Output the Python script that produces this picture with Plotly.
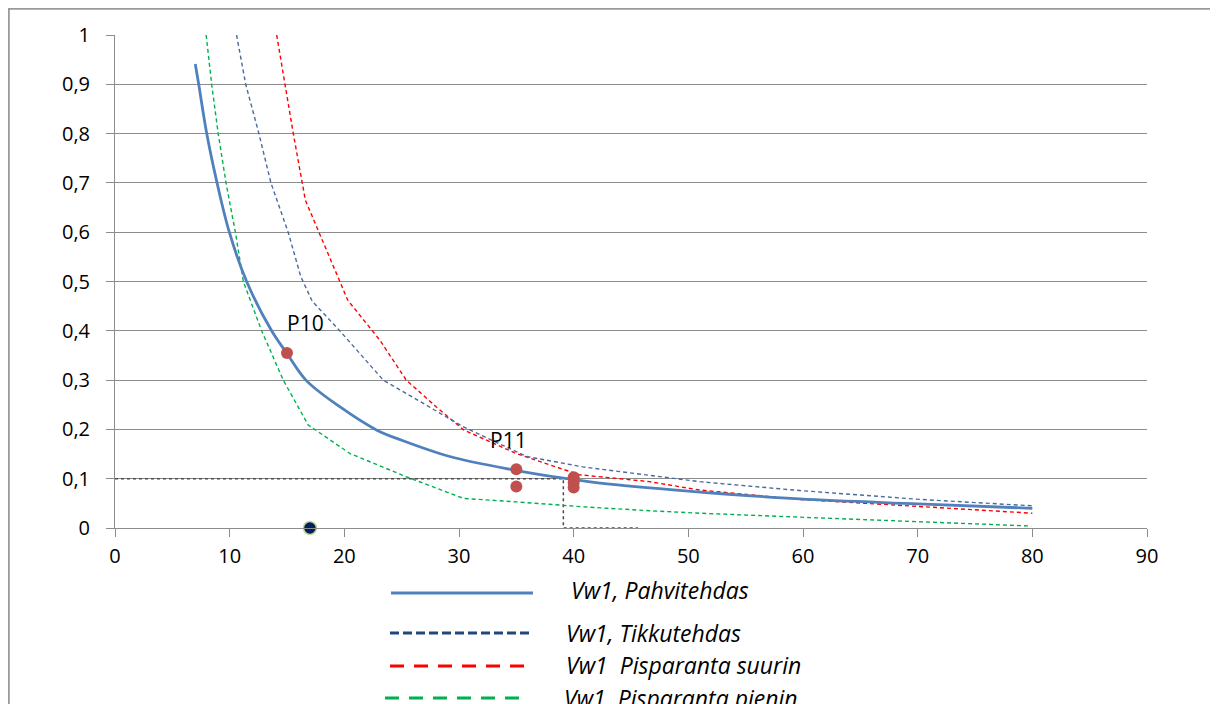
import plotly.graph_objects as go

# ---------------- data ----------------
pahvi_x = [7.0, 7.3, 8.0, 8.9, 9.97, 11.48, 13.66, 14.97, 16.65, 19.6, 22.8, 25.0, 29.2, 34.7, 39.1, 42.3, 50.0, 59.7, 70.0, 80.0]
pahvi_y = [0.941, 0.90, 0.80, 0.70, 0.60, 0.50, 0.40, 0.355, 0.300, 0.246, 0.199, 0.178, 0.145, 0.118, 0.101, 0.091, 0.075, 0.059, 0.049, 0.040]

tikku_x = [10.6, 11.4, 12.55, 13.6, 15.1, 16.2, 17.2, 19.6, 23.4, 30.4, 35.9, 40.8, 46.6, 51.0, 59.7, 70.2, 80.0]
tikku_y = [1.0, 0.90, 0.80, 0.70, 0.60, 0.51, 0.460, 0.400, 0.300, 0.205, 0.145, 0.124, 0.107, 0.094, 0.076, 0.058, 0.045]

suurin_x = [14.1, 14.8, 15.55, 16.6, 17.8, 19.1, 20.3, 23.1, 25.4, 28.0, 30.4, 35.0, 40.5, 46.6, 51.0, 59.7, 70.2, 80.0]
suurin_y = [1.0, 0.90, 0.80, 0.665, 0.60, 0.527, 0.462, 0.381, 0.300, 0.246, 0.199, 0.151, 0.108, 0.094, 0.077, 0.058, 0.043, 0.030]

pienin_x = [7.95, 8.43, 9.0, 9.68, 10.5, 11.19, 12.79, 14.67, 16.85, 20.5, 25.4, 30.4, 35.0, 40.8, 46.6, 51.0, 59.7, 70.2, 79.9]
pienin_y = [1.0, 0.90, 0.80, 0.70, 0.60, 0.50, 0.40, 0.300, 0.209, 0.151, 0.104, 0.060, 0.053, 0.043, 0.035, 0.030, 0.022, 0.013, 0.004]

meas_x = [15.0, 35.0, 35.0, 40.0, 40.0, 40.0]
meas_y = [0.355, 0.119, 0.084, 0.103, 0.092, 0.082]

navy_x = [17.0]
navy_y = [0.0]

ref_x = [0.0, 39.1, 39.1, 45.6]
ref_y = [0.1, 0.1, 0.0, 0.0]

label_text = ["P10", "P11"]
label_x = [16.6, 34.3]
label_y = [0.416, 0.178]

x_ticks = [0, 10, 20, 30, 40, 50, 60, 70, 80, 90]
y_ticks = [0, 0.1, 0.2, 0.3, 0.4, 0.5, 0.6, 0.7, 0.8, 0.9, 1.0]
y_ticktext = ["0", "0,1", "0,2", "0,3", "0,4", "0,5", "0,6", "0,7", "0,8", "0,9", "1"]

legend_names = ["Vw1, Pahvitehdas", "Vw1, Tikkutehdas", "Vw1  Pisparanta suurin", "Vw1  Pisparanta pienin"]

# ---------------- figure ----------------
# the page body adds an 8px margin, so the figure is 8px smaller and shifted
OFF = 8
W, H = 1218 - OFF, 704 - OFF
PL, PT, PR, PB = 115, 35, 1147, 528          # plot area in screen pixels
L, T = PL - OFF, PT - OFF
PW, PH = PR - PL, PB - PT
R, B = W - L - PW, H - T - PH

def px(xs):
    return (xs - PL) / PW

def py(ys):
    return (PB - ys) / PH

FONT = "Open Sans"
GRAY = "#8c8c8c"

fig = go.Figure()

fig.add_trace(go.Scatter(x=ref_x, y=ref_y, mode="lines", name="ref",
                         line=dict(color="#4a4a4a", width=1.5, dash="dot"), showlegend=False))
fig.add_trace(go.Scatter(x=pienin_x, y=pienin_y, mode="lines", name=legend_names[3],
                         line=dict(color="#00b050", width=1.4, dash="4px,3px"), showlegend=False))
fig.add_trace(go.Scatter(x=suurin_x, y=suurin_y, mode="lines", name=legend_names[2],
                         line=dict(color="#ff0000", width=1.4, dash="4px,3px"), showlegend=False))
fig.add_trace(go.Scatter(x=tikku_x, y=tikku_y, mode="lines", name=legend_names[1],
                         line=dict(color="#4a6a9c", width=1.4, dash="4px,3px"), showlegend=False))
fig.add_trace(go.Scatter(x=pahvi_x, y=pahvi_y, mode="lines", name=legend_names[0],
                         line=dict(color="#4f81bd", width=2.8, shape="spline", smoothing=1.0), showlegend=False))
fig.add_trace(go.Scatter(x=meas_x, y=meas_y, mode="markers", name="mittaus",
                         marker=dict(color="#c0504d", size=12), showlegend=False, cliponaxis=False))
fig.add_trace(go.Scatter(x=navy_x, y=navy_y, mode="markers", name="piste",
                         marker=dict(color="#002060", size=13, line=dict(color="#c4d79b", width=1.5)),
                         showlegend=False, cliponaxis=False))

annotations = []
for t, lx, ly in zip(label_text, label_x, label_y):
    annotations.append(dict(x=lx, y=ly, xref="x", yref="y", text=t, showarrow=False,
                            font=dict(family=FONT, size=21, color="#000")))

# manual legend (long sample lines as in the original), screen-pixel positions
leg_rows = [
    (590, 593, 391, 533, "#4f81bd", "solid", 569),
    (633, 633, 390, 532, "#1f497d", "9px,4px", 564),
    (665, 666, 390, 527, "#ff0000", "14px,10px", 564),
    (698, 698, 385, 523, "#00b050", "14px,10px", 562),
]
shapes = []
for (ty, ly, x0, x1, col, dash, tx), name in zip(leg_rows, legend_names):
    shapes.append(dict(type="line", xref="paper", yref="paper", x0=px(x0), x1=px(x1),
                       y0=py(ly), y1=py(ly), line=dict(color=col, width=3, dash=dash)))
    annotations.append(dict(x=px(tx), y=py(ty), xref="paper", yref="paper", xanchor="left",
                            yanchor="middle", text="<i>" + name + "</i>", showarrow=False,
                            font=dict(family=FONT, size=23, color="#000")))

# outer chart border
shapes.append(dict(type="rect", xref="paper", yref="paper", x0=px(8.8), x1=px(1216),
                   y0=py(8.8), y1=py(780), line=dict(color="#9a9a9a", width=2), layer="below"))

fig.update_layout(
    width=W, height=H,
    margin=dict(l=L, r=R, t=T, b=B, pad=0),
    paper_bgcolor="white", plot_bgcolor="white",
    font=dict(family=FONT, size=20, color="#000"),
    showlegend=False,
    annotations=annotations,
    shapes=shapes,
    xaxis=dict(range=[0, 90], tickvals=x_ticks, ticks="outside", ticklen=8, tickcolor=GRAY,
               showline=True, linecolor=GRAY, linewidth=1, showgrid=False, zeroline=False,
               tickfont=dict(family=FONT, size=20, color="#000"), ticklabelstandoff=2),
    yaxis=dict(range=[0, 1], tickvals=y_ticks, ticktext=y_ticktext, ticks="outside", ticklen=8,
               tickcolor=GRAY, showline=True, linecolor=GRAY, linewidth=1, showgrid=True,
               gridcolor=GRAY, gridwidth=1, zeroline=False,
               tickfont=dict(family=FONT, size=20, color="#000"), ticklabelstandoff=12),
)

fig.write_html("out.html")
